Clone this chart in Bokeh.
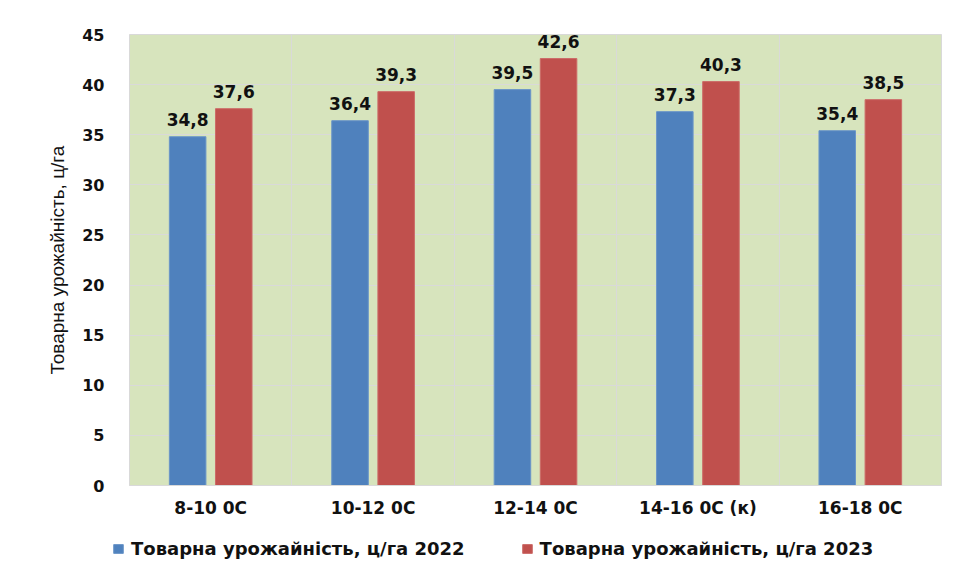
from bokeh.plotting import figure
from bokeh.layouts import column
from bokeh.models import (ColumnDataSource, FixedTicker, Legend, LegendItem,
                          LabelSet)
from bokeh.core.properties import value
from bokeh.embed import file_html
from bokeh.resources import INLINE

categories = ["8-10 0C", "10-12 0C", "12-14 0C", "14-16 0C (к)", "16-18 0C"]
yield_2022 = [34.8, 36.4, 39.5, 37.3, 35.4]
yield_2023 = [37.6, 39.3, 42.6, 40.3, 38.5]
series_names = ["Товарна урожайність, ц/га 2022", "Товарна урожайність, ц/га 2023"]
y_ticks = [0, 5, 10, 15, 20, 25, 30, 35, 40, 45]
y_label = "Товарна урожайність, ц/га"

BLUE = "#4f81bd"
RED = "#c0504d"
BG = "#d7e4bd"
GRID = "#d9d9d9"

centers = [i + 0.5 for i in range(len(categories))]
off = 0.142
bw = 0.225

src22 = ColumnDataSource(dict(x=[c - off for c in centers], top=yield_2022,
                              lab=[f"{v:.1f}".replace(".", ",") for v in yield_2022]))
src23 = ColumnDataSource(dict(x=[c + off for c in centers], top=yield_2023,
                              lab=[f"{v:.1f}".replace(".", ",") for v in yield_2023]))

p = figure(frame_width=812, frame_height=451, output_backend="svg",
           toolbar_location=None,
           x_range=(0, len(categories)), y_range=(0, 45),
           min_border_left=129, min_border_top=34, min_border_right=8,
           min_border_bottom=45)
p.background_fill_color = BG
p.border_fill_color = "white"
p.outline_line_color = GRID
p.outline_line_width = 1

bar_style = dict(width=bw)
r22 = p.vbar(x="x", top="top", source=src22, fill_color=BLUE,
             line_color="#6a95c8", line_width=1, **bar_style)
r23 = p.vbar(x="x", top="top", source=src23, fill_color=RED,
             line_color="#cc6b68", line_width=1, **bar_style)

for s in (src22, src23):
    p.add_layout(LabelSet(x="x", y="top", text="lab", source=s, y_offset=11,
                          text_align="center", text_baseline="bottom",
                          text_font=value("DejaVu Sans"), text_font_style="bold",
                          text_font_size="17px", text_color="#111111"))

# y axis
p.yaxis.ticker = FixedTicker(ticks=y_ticks)
p.yaxis.axis_line_color = None
p.yaxis.major_tick_line_color = None
p.yaxis.minor_tick_line_color = None
p.yaxis.major_label_text_font = "DejaVu Sans"
p.yaxis.major_label_text_font_style = "bold"
p.yaxis.major_label_text_font_size = "16px"
p.yaxis.major_label_text_color = "#111111"
p.yaxis.major_label_standoff = 19
p.yaxis.axis_label = y_label
p.yaxis.axis_label_text_font = "Liberation Sans"
p.yaxis.axis_label_text_font_style = "normal"
p.yaxis.axis_label_text_font_size = "19px"
p.yaxis.axis_label_text_color = "#111111"
p.yaxis.axis_label_standoff = 11

# x axis
p.xaxis.ticker = FixedTicker(ticks=centers)
p.xaxis.major_label_overrides = {c: lab for c, lab in zip(centers, categories)}
p.xaxis.axis_line_color = GRID
p.xaxis.major_tick_line_color = None
p.xaxis.minor_tick_line_color = None
p.xaxis.major_label_text_font = "DejaVu Sans"
p.xaxis.major_label_text_font_style = "bold"
p.xaxis.major_label_text_font_size = "17px"
p.xaxis.major_label_text_color = "#111111"
p.xaxis.major_label_standoff = 6

p.xgrid.ticker = FixedTicker(ticks=list(range(1, len(categories))))
p.xgrid.grid_line_color = GRID
p.ygrid.ticker = FixedTicker(ticks=y_ticks)
p.ygrid.grid_line_color = GRID

# legend strip below the chart (same series, drawn out of view)
lg = figure(frame_width=949, frame_height=44, output_backend="svg",
            toolbar_location=None, x_axis_type=None, y_axis_type=None,
            x_range=(0, len(categories)), y_range=(100, 101),
            min_border_left=0, min_border_right=0, min_border_top=0,
            min_border_bottom=0)
lg.outline_line_color = None
lg.grid.visible = False
lg.background_fill_color = "white"
l22 = lg.vbar(x="x", top="top", source=src22, fill_color=BLUE,
              line_color="#6a95c8", line_width=1, **bar_style)
l23 = lg.vbar(x="x", top="top", source=src23, fill_color=RED,
              line_color="#cc6b68", line_width=1, **bar_style)

legend = Legend(items=[LegendItem(label=series_names[0], renderers=[l22]),
                       LegendItem(label=series_names[1], renderers=[l23])],
                orientation="horizontal", location=(112, 15),
                label_text_font="DejaVu Sans", label_text_font_style="bold",
                label_text_font_size="18px", label_text_color="#111111",
                glyph_width=12, glyph_height=11, spacing=56, label_standoff=7,
                border_line_color=None, background_fill_alpha=0,
                margin=0, padding=4)
lg.add_layout(legend, "center")

layout = column(p, lg, spacing=0)
open("out.html", "w").write(file_html(layout, INLINE))
